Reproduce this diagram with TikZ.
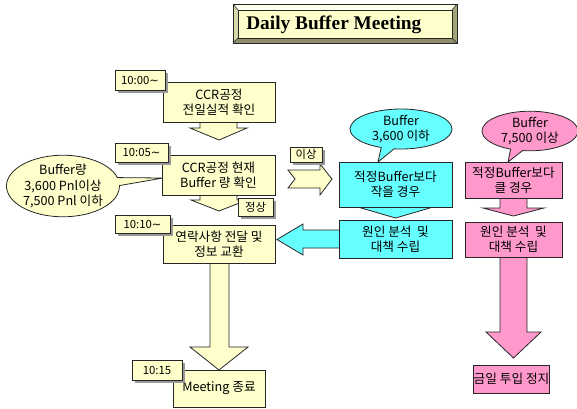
\documentclass[tikz,border=0pt]{standalone}
\usepackage{fontspec}
\setmainfont{Liberation Serif}
\newfontfamily\kr{Noto Sans CJK KR}
\newfontfamily\symfont{DejaVu Sans}
\usetikzlibrary{shapes.callouts,shadows}

\definecolor{ylw}{HTML}{FFFFCC}
\definecolor{cyn}{HTML}{66FFFF}
\definecolor{pnk}{HTML}{FF99CC}
\definecolor{edge}{HTML}{262626}
\definecolor{bevtop}{HTML}{FFFFEE}
\definecolor{bevleft}{HTML}{D8D8A8}
\definecolor{bevright}{HTML}{A3A37A}
\definecolor{bevbot}{HTML}{8E8E6A}

\newcommand{\wave}{{\symfont\symbol{"223C}}}

\tikzset{
  outline/.style={draw=edge, line width=0.6pt, line join=miter},
  sz/.style 2 args={minimum width=#1*0.75pt, minimum height=#2*0.75pt},
  boxtext/.style={font=\kr\fontsize{9.5}{11.5}\selectfont, align=center, inner sep=0pt},
  ybox/.style={outline, fill=ylw, boxtext},
  cbox/.style={outline, fill=cyn, boxtext},
  pbox/.style={outline, fill=pnk, boxtext},
  tag/.style={outline, fill=ylw, font=\kr\fontsize{8.5}{10}\selectfont, inner sep=0pt,
    drop shadow={shadow xshift=2.2pt, shadow yshift=-2.2pt, fill=black!40, opacity=1}},
  bubble/.style={ellipse callout, outline, boxtext, inner sep=0pt},
  yarrow/.style={outline, fill=ylw},
  carrow/.style={outline, fill=cyn},
  parrow/.style={outline, fill=pnk},
}

\begin{document}
\begin{tikzpicture}[x=0.75pt,y=-0.75pt]
\useasboundingbox (0,0) rectangle (577,408);

% ---- title plate with bevelled rim ----
\fill[bevtop]   (233,4) -- (457,4) -- (452,10) -- (238,10) -- cycle;
\fill[bevleft]  (233,4) -- (238,10) -- (238,38) -- (233,43) -- cycle;
\fill[bevright] (457,4) -- (452,10) -- (452,38) -- (457,43) -- cycle;
\fill[bevbot]   (233,43) -- (238,38) -- (452,38) -- (457,43) -- cycle;
\node[draw=edge, line width=0.5pt, fill=ylw, sz={214}{28}, inner sep=0pt] (plate) at (345,24) {};
\node[anchor=west, inner sep=0pt, font=\fontsize{14.5}{16}\selectfont\bfseries] (title)
  at (246,24.5) {Daily Buffer Meeting};
\draw[edge, line width=0.5pt] (233,4) rectangle (457,43);
\draw[edge, line width=0.4pt] (233,4) -- (238,10) (457,4) -- (452,10)
      (233,43) -- (238,38) (457,43) -- (452,38);

% ---- block arrows (drawn below the boxes) ----
% main yellow column
\filldraw[yarrow] (200,110) -- (200,128) -- (190,128) -- (219,140) -- (247,128)
                  -- (237,128) -- (237,110) -- cycle;
\filldraw[yarrow] (200,185) -- (200,200) -- (191,200) -- (219,211) -- (247,200)
                  -- (237,200) -- (237,185) -- cycle;
\filldraw[yarrow] (210,250) -- (210,347) -- (190,347) -- (219,370) -- (248,347)
                  -- (229,347) -- (229,250) -- cycle;
% notched arrow towards the cyan branch
\filldraw[yarrow] (288,170) -- (320,170) -- (320,164) -- (332,179) -- (320,195)
                  -- (320,188) -- (288,188) -- (295,179) -- cycle;
% cyan branch
\filldraw[carrow] (370,195) -- (370,205) -- (351,205) -- (395.5,218) -- (440,205)
                  -- (421,205) -- (421,195) -- cycle;
\filldraw[carrow] (350,230) -- (303,230) -- (303,224) -- (277,239.5) -- (303,255)
                  -- (303,248) -- (350,248) -- cycle;
% pink branch
\filldraw[parrow] (500,190) -- (500,208) -- (483,208) -- (513.5,216) -- (544,208)
                  -- (527,208) -- (527,190) -- cycle;
\filldraw[parrow] (500,250) -- (500,332) -- (486,332) -- (513.5,358) -- (541,332)
                  -- (527,332) -- (527,250) -- cycle;

% ---- main column boxes ----
\node[ybox, sz={112}{40}] (b1) at (219,102) {CCR공정\\전일실적 확인};
\node[ybox, sz={113}{40}] (b2) at (218.5,175) {CCR공정 현재\\Buffer 량 확인};
\node[ybox, sz={112}{38}] (b3) at (219,244) {연락사항 전달 및\\정보 교환};
\node[ybox, sz={92}{37}]  (b4) at (219,388.5) {Meeting 종료};

% ---- time tags ----
\node[tag, sz={50}{20}] (t1) at (140,80) {10:00\wave};
\node[tag, sz={53}{19}] (t2) at (141.5,152.5) {10:05\wave};
\node[tag, sz={55}{18}] (t3) at (142.5,224) {10:10\wave};
\node[tag, sz={50}{20}] (t4) at (157,370) {10:15};
\node[tag, sz={35}{18}] (ok) at (255.5,207) {정상};
\node[tag, sz={32}{15}] (ng) at (306,154.5) {이상};

% ---- cyan branch ----
\node[cbox, sz={113}{45}] (c1) at (395.5,184.5) {적정Buffer보다\\작을 경우};
\node[cbox, sz={113}{38}] (c2) at (395.5,239) {원인 분석 \ 및\\대책 수립};

% ---- pink branch ----
\node[pbox, sz={97}{36}] (p1) at (513.5,180) {적정Buffer보다\\클 경우};
\node[pbox, sz={97}{35}] (p2) at (513.5,239.5) {원인 분석 \ 및\\대책 수립};
\node[pbox, sz={75}{28}] (p3) at (511.5,379) {금일 투입 정지};

% ---- speech bubbles ----
\coordinate (yptr) at (163,178);
\coordinate (cptr) at (378,162);
\coordinate (pptr) at (508,162);
\node[bubble, fill=ylw, sz={112}{50}, callout absolute pointer={(yptr)}] (q1) at (63,186)
  {Buffer량\\3,600 Pnl이상\\7,500 Pnl 이하};
\node[bubble, fill=cyn, sz={102}{40}, callout absolute pointer={(cptr)}] (q2) at (401,129)
  {Buffer\\3,600 이하};
\node[bubble, fill=pnk, sz={96}{38}, callout absolute pointer={(pptr)}] (q3) at (530,131)
  {Buffer\\7,500 이상};
\end{tikzpicture}
\end{document}
